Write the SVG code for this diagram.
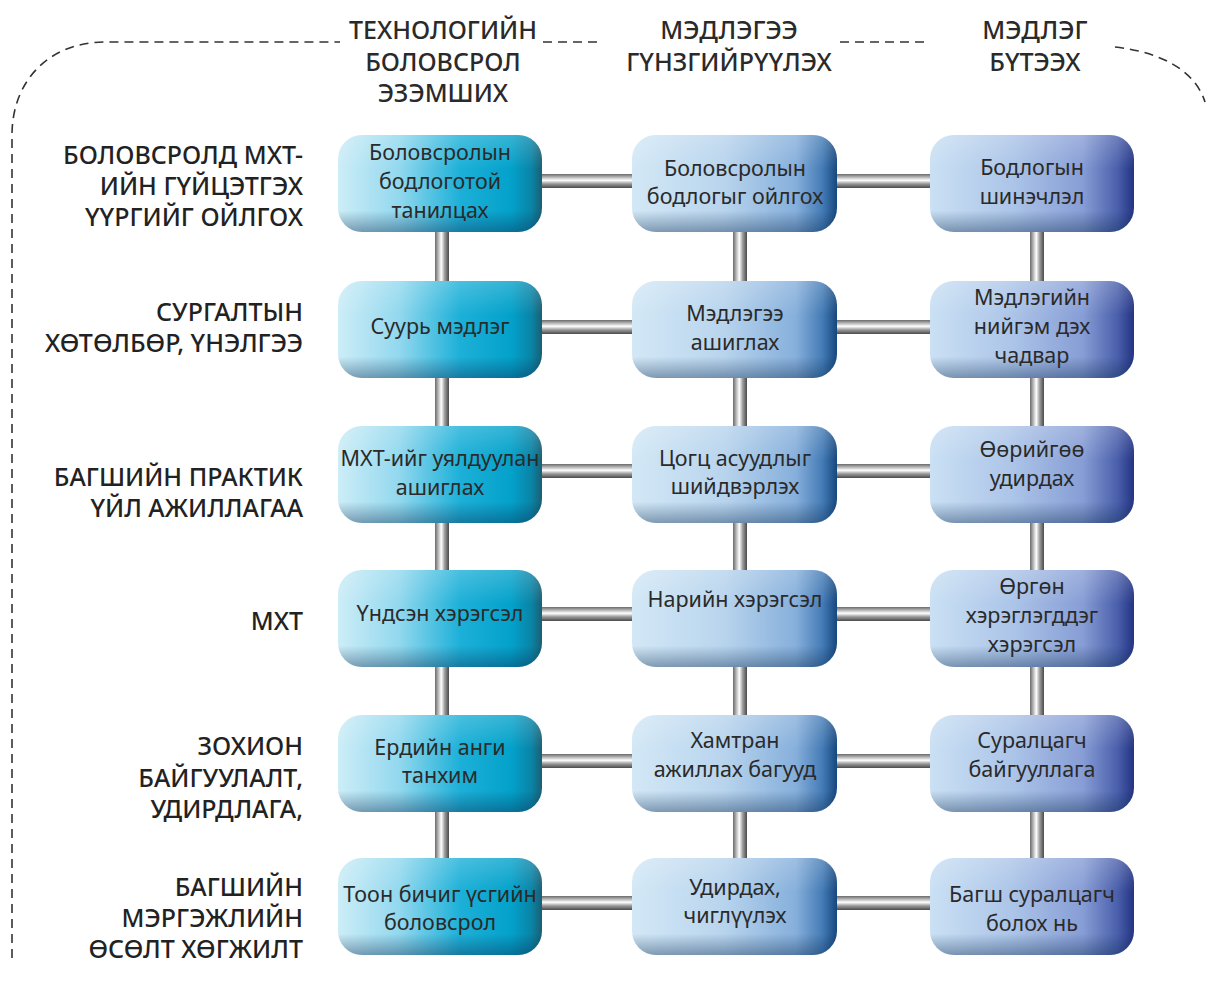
<svg xmlns="http://www.w3.org/2000/svg" width="1208" height="982" viewBox="0 0 1208 982">
<defs>
<linearGradient id="g1" x1="0" y1="0" x2="1" y2="0">
<stop offset="0" stop-color="#cdedf7"/><stop offset="0.3" stop-color="#92d8ee"/><stop offset="0.6" stop-color="#1cb0d8"/><stop offset="0.85" stop-color="#03a1ca"/><stop offset="0.95" stop-color="#0a83a5"/><stop offset="1" stop-color="#1a5f72"/>
</linearGradient>
<linearGradient id="g2" x1="0" y1="0" x2="1" y2="0">
<stop offset="0" stop-color="#d3e8f6"/><stop offset="0.45" stop-color="#b8d4ed"/><stop offset="0.8" stop-color="#86afdb"/><stop offset="0.93" stop-color="#447bb5"/><stop offset="1" stop-color="#16477e"/>
</linearGradient>
<linearGradient id="g3" x1="0" y1="0" x2="1" y2="0">
<stop offset="0" stop-color="#cae0f4"/><stop offset="0.4" stop-color="#acc5e8"/><stop offset="0.75" stop-color="#879dd5"/><stop offset="0.92" stop-color="#4a5fab"/><stop offset="1" stop-color="#233482"/>
</linearGradient>
<linearGradient id="shade" x1="0" y1="0" x2="0" y2="1">
<stop offset="0" stop-color="#ffffff" stop-opacity="0.2"/><stop offset="0.35" stop-color="#ffffff" stop-opacity="0"/><stop offset="0.78" stop-color="#0a2a50" stop-opacity="0"/><stop offset="1" stop-color="#0a2a50" stop-opacity="0.4"/>
</linearGradient>
<linearGradient id="barH" x1="0" y1="0" x2="0" y2="1">
<stop offset="0" stop-color="#6a6a6a"/><stop offset="0.25" stop-color="#bdbdbd"/><stop offset="0.45" stop-color="#ffffff"/><stop offset="0.7" stop-color="#9a9a9a"/><stop offset="1" stop-color="#4a4a4a"/>
</linearGradient>
<linearGradient id="barV" x1="0" y1="0" x2="1" y2="0">
<stop offset="0" stop-color="#6a6a6a"/><stop offset="0.25" stop-color="#bdbdbd"/><stop offset="0.45" stop-color="#ffffff"/><stop offset="0.7" stop-color="#9a9a9a"/><stop offset="1" stop-color="#4a4a4a"/>
</linearGradient>
</defs>
<style>
.n1{fill:url(#g1)}
.n2{fill:url(#g2)}
.n3{fill:url(#g3)}
.sh{fill:url(#shade)}
.t{font-family:"Noto Sans","Open Sans",sans-serif;font-size:21.5px;fill:#2a2a2a;text-anchor:middle}
.rl{font-family:"Noto Sans","Open Sans",sans-serif;font-size:25px;font-weight:500;fill:#222;text-anchor:end}
.hd{font-family:"Noto Sans","Open Sans",sans-serif;font-size:25px;font-weight:500;fill:#2a2a2a;text-anchor:middle}
.bh{fill:url(#barH)}
.bv{fill:url(#barV)}
.dash{fill:none;stroke:#333;stroke-width:1.6;stroke-dasharray:9 6}
</style>

<g id="border">
<path class="dash" d="M12,958 L12,135 C12,80 50,42 105,42 L340,42"/>
<path class="dash" d="M543,42 L600,42"/>
<path class="dash" d="M840,42 L925,42"/>
<path class="dash" d="M1115,47 C1160,52 1195,70 1205,102"/>
</g>

<g id="headers">
<text class="hd" x="443" y="39">ТЕХНОЛОГИЙН</text>
<text class="hd" x="443" y="71">БОЛОВСРОЛ</text>
<text class="hd" x="443" y="102">ЭЗЭМШИХ</text>
<text class="hd" x="729" y="39">МЭДЛЭГЭЭ</text>
<text class="hd" x="729" y="71">ГҮНЗГИЙРҮҮЛЭХ</text>
<text class="hd" x="1035" y="39">МЭДЛЭГ</text>
<text class="hd" x="1035" y="71">БҮТЭЭХ</text>
</g>

<g id="row-labels">
<text class="rl" x="303" y="164">БОЛОВСРОЛД МХТ-</text>
<text class="rl" x="303" y="195">ИЙН ГҮЙЦЭТГЭХ</text>
<text class="rl" x="303" y="226">ҮҮРГИЙГ ОЙЛГОХ</text>
<text class="rl" x="303" y="321">СУРГАЛТЫН</text>
<text class="rl" x="303" y="352">ХӨТӨЛБӨР, ҮНЭЛГЭЭ</text>
<text class="rl" x="303" y="486">БАГШИЙН ПРАКТИК</text>
<text class="rl" x="303" y="517">ҮЙЛ АЖИЛЛАГАА</text>
<text class="rl" x="303" y="630">МХТ</text>
<text class="rl" x="303" y="755">ЗОХИОН</text>
<text class="rl" x="303" y="787">БАЙГУУЛАЛТ,</text>
<text class="rl" x="303" y="818">УДИРДЛАГА,</text>
<text class="rl" x="303" y="896">БАГШИЙН</text>
<text class="rl" x="303" y="927">МЭРГЭЖЛИЙН</text>
<text class="rl" x="303" y="958">ӨСӨЛТ ХӨГЖИЛТ</text>
</g>

<g id="connectors">
<rect class="bh" x="540" y="174" width="94" height="14"/>
<rect class="bh" x="835" y="174" width="97" height="14"/>
<rect class="bh" x="540" y="320" width="94" height="14"/>
<rect class="bh" x="835" y="320" width="97" height="14"/>
<rect class="bh" x="540" y="464" width="94" height="14"/>
<rect class="bh" x="835" y="464" width="97" height="14"/>
<rect class="bh" x="540" y="607" width="94" height="14"/>
<rect class="bh" x="835" y="607" width="97" height="14"/>
<rect class="bh" x="540" y="754" width="94" height="14"/>
<rect class="bh" x="835" y="754" width="97" height="14"/>
<rect class="bh" x="540" y="896" width="94" height="14"/>
<rect class="bh" x="835" y="896" width="97" height="14"/>
<rect class="bv" x="435" y="230" width="14" height="52"/>
<rect class="bv" x="435" y="376" width="14" height="52"/>
<rect class="bv" x="435" y="521" width="14" height="51"/>
<rect class="bv" x="435" y="665" width="14" height="52"/>
<rect class="bv" x="435" y="810" width="14" height="50"/>
<rect class="bv" x="733" y="230" width="14" height="52"/>
<rect class="bv" x="733" y="376" width="14" height="52"/>
<rect class="bv" x="733" y="521" width="14" height="51"/>
<rect class="bv" x="733" y="665" width="14" height="52"/>
<rect class="bv" x="733" y="810" width="14" height="50"/>
<rect class="bv" x="1030" y="230" width="14" height="52"/>
<rect class="bv" x="1030" y="376" width="14" height="52"/>
<rect class="bv" x="1030" y="521" width="14" height="51"/>
<rect class="bv" x="1030" y="665" width="14" height="52"/>
<rect class="bv" x="1030" y="810" width="14" height="50"/>
</g>

<g id="n-1-1"><rect class="n1" x="338" y="135" width="204" height="97" rx="24"/><rect class="sh" x="338" y="135" width="204" height="97" rx="24"/>
<text class="t" x="440" y="160">Боловсролын</text><text class="t" x="440" y="189">бодлоготой</text><text class="t" x="440" y="218">танилцах</text></g>
<g id="n-2-1"><rect class="n1" x="338" y="281" width="204" height="97" rx="24"/><rect class="sh" x="338" y="281" width="204" height="97" rx="24"/>
<text class="t" x="440" y="334">Суурь мэдлэг</text></g>
<g id="n-3-1"><rect class="n1" x="338" y="426" width="204" height="97" rx="24"/><rect class="sh" x="338" y="426" width="204" height="97" rx="24"/>
<text class="t" x="440" y="466">МХТ-ийг уялдуулан</text><text class="t" x="440" y="495">ашиглах</text></g>
<g id="n-4-1"><rect class="n1" x="338" y="570" width="204" height="97" rx="24"/><rect class="sh" x="338" y="570" width="204" height="97" rx="24"/>
<text class="t" x="440" y="621">Үндсэн хэрэгсэл</text></g>
<g id="n-5-1"><rect class="n1" x="338" y="715" width="204" height="97" rx="24"/><rect class="sh" x="338" y="715" width="204" height="97" rx="24"/>
<text class="t" x="440" y="755">Ердийн анги</text><text class="t" x="440" y="783">танхим</text></g>
<g id="n-6-1"><rect class="n1" x="338" y="858" width="204" height="97" rx="24"/><rect class="sh" x="338" y="858" width="204" height="97" rx="24"/>
<text class="t" x="440" y="902">Тоон бичиг үсгийн</text><text class="t" x="440" y="930">боловсрол</text></g>

<g id="n-1-2"><rect class="n2" x="632" y="135" width="205" height="97" rx="24"/><rect class="sh" x="632" y="135" width="205" height="97" rx="24"/>
<text class="t" x="735" y="176">Боловсролын</text><text class="t" x="735" y="204">бодлогыг ойлгох</text></g>
<g id="n-2-2"><rect class="n2" x="632" y="281" width="205" height="97" rx="24"/><rect class="sh" x="632" y="281" width="205" height="97" rx="24"/>
<text class="t" x="735" y="321">Мэдлэгээ</text><text class="t" x="735" y="350">ашиглах</text></g>
<g id="n-3-2"><rect class="n2" x="632" y="426" width="205" height="97" rx="24"/><rect class="sh" x="632" y="426" width="205" height="97" rx="24"/>
<text class="t" x="735" y="466">Цогц асуудлыг</text><text class="t" x="735" y="494">шийдвэрлэх</text></g>
<g id="n-4-2"><rect class="n2" x="632" y="570" width="205" height="97" rx="24"/><rect class="sh" x="632" y="570" width="205" height="97" rx="24"/>
<text class="t" x="735" y="607">Нарийн хэрэгсэл</text></g>
<g id="n-5-2"><rect class="n2" x="632" y="715" width="205" height="97" rx="24"/><rect class="sh" x="632" y="715" width="205" height="97" rx="24"/>
<text class="t" x="735" y="748">Хамтран</text><text class="t" x="735" y="777">ажиллах багууд</text></g>
<g id="n-6-2"><rect class="n2" x="632" y="858" width="205" height="97" rx="24"/><rect class="sh" x="632" y="858" width="205" height="97" rx="24"/>
<text class="t" x="735" y="895">Удирдах,</text><text class="t" x="735" y="923">чиглүүлэх</text></g>

<g id="n-1-3"><rect class="n3" x="930" y="135" width="204" height="97" rx="24"/><rect class="sh" x="930" y="135" width="204" height="97" rx="24"/>
<text class="t" x="1032" y="175">Бодлогын</text><text class="t" x="1032" y="204">шинэчлэл</text></g>
<g id="n-2-3"><rect class="n3" x="930" y="281" width="204" height="97" rx="24"/><rect class="sh" x="930" y="281" width="204" height="97" rx="24"/>
<text class="t" x="1032" y="305">Мэдлэгийн</text><text class="t" x="1032" y="334">нийгэм дэх</text><text class="t" x="1032" y="363">чадвар</text></g>
<g id="n-3-3"><rect class="n3" x="930" y="426" width="204" height="97" rx="24"/><rect class="sh" x="930" y="426" width="204" height="97" rx="24"/>
<text class="t" x="1032" y="457">Өөрийгөө</text><text class="t" x="1032" y="486">удирдах</text></g>
<g id="n-4-3"><rect class="n3" x="930" y="570" width="204" height="97" rx="24"/><rect class="sh" x="930" y="570" width="204" height="97" rx="24"/>
<text class="t" x="1032" y="594">Өргөн</text><text class="t" x="1032" y="623">хэрэглэгддэг</text><text class="t" x="1032" y="652">хэрэгсэл</text></g>
<g id="n-5-3"><rect class="n3" x="930" y="715" width="204" height="97" rx="24"/><rect class="sh" x="930" y="715" width="204" height="97" rx="24"/>
<text class="t" x="1032" y="748">Суралцагч</text><text class="t" x="1032" y="777">байгууллага</text></g>
<g id="n-6-3"><rect class="n3" x="930" y="858" width="204" height="97" rx="24"/><rect class="sh" x="930" y="858" width="204" height="97" rx="24"/>
<text class="t" x="1032" y="902">Багш суралцагч</text><text class="t" x="1032" y="931">болох нь</text></g>
</svg>
